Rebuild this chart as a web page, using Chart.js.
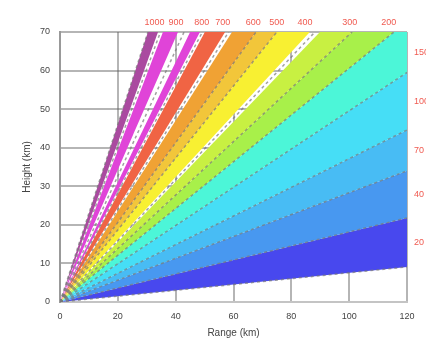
<!DOCTYPE html>
<html>
<head>
<meta charset="utf-8">
<script src="https://cdn.jsdelivr.net/npm/chart.js@4.4.0/dist/chart.umd.min.js"></script>
<style>
  html, body { margin: 0; padding: 0; background: #fff; }
  #wrap { width: 426px; height: 342px; }
</style>
</head>
<body>
<div id="wrap"><canvas id="contour"></canvas></div>
<script>
const xTicks = [0, 20, 40, 60, 80, 100, 120];
const yTicks = [0, 10, 20, 30, 40, 50, 60, 70];
const xMax = 120, yMax = 70;

// band boundaries, steepest first; all start at the origin
// x where a boundary leaves through the top edge
const topExitX = [30.4, 33.9, 35.6, 40.8, 45.0, 48.4, 50.1, 57.1, 59.5, 67.8, 75.0, 86.4, 89.9, 101, 115.5];
// y where the rest leave through the right edge
const rightExitY = [59.5, 44.6, 34.0, 21.8, 9.1];

// fill between consecutive boundaries (null = left white)
const bandColors = ['#aa4aa0', null, '#e044d8', null, '#e044d8', null, '#f06444', null,
  '#f0a234', '#f2c63a', '#f8f032', null, '#c8f042', '#a8f04a',
  '#4cf6d8', '#46def6', '#48bcf4', '#4898f0', '#4848ee'];

const topLabels = ['1000', '900', '800', '700', '600', '500', '400', '300', '200'];
const rightLabels = ['150', '100', '70', '40', '20'];

const FONT = 'Liberation Sans, Arial, sans-serif';

const edges = topExitX.map(x => ({ x: x, y: yMax }))
  .concat(rightExitY.map(y => ({ x: xMax, y: y })));

const datasets = [];

// filled bands
bandColors.forEach((c, i) => {
  if (!c) return;
  const a = edges[i], b = edges[i + 1];
  const pts = [{ x: 0, y: 0 }, a];
  if (a.y === yMax && b.x === xMax) pts.push({ x: xMax, y: yMax });
  pts.push(b, { x: 0, y: 0 });
  datasets.push({
    data: pts, showLine: true, fill: 'shape', backgroundColor: c,
    borderWidth: 0, pointRadius: 0, order: 2
  });
});

// contour lines: on every edge except beside a white gap, plus one down the middle of each gap
function contour(p) {
  datasets.push({
    data: [{ x: 0, y: 0 }, p], showLine: true, fill: false,
    borderColor: 'rgba(120,120,120,0.7)', borderWidth: 1.5, borderDash: [3, 3],
    pointRadius: 0, order: 1
  });
}
edges.forEach((e, i) => {
  const before = i === 0 ? 'out' : bandColors[i - 1];
  const after = i === edges.length - 1 ? 'out' : bandColors[i];
  if (before && after) contour(e);
});
bandColors.forEach((c, i) => {
  if (c) return;
  const a = edges[i], b = edges[i + 1];
  contour({ x: (a.x + b.x) / 2, y: (a.y + b.y) / 2 });
});

const bandLabels = {
  id: 'bandLabels',
  afterDraw(chart) {
    const { ctx, scales: { x, y } } = chart;
    ctx.save();
    ctx.fillStyle = '#f05a50';
    ctx.font = '9px ' + FONT;
    ctx.textBaseline = 'middle';
    const tops = [];
    let t = 0, r = 0;
    bandColors.forEach((c, i) => {
      if (!c) return;
      const a = edges[i], b = edges[i + 1];
      if (b.y === yMax) {
        const mx = (a.x + b.x) / 2 * 1.05;
        const txt = topLabels[t++];
        tops.push({ txt: txt, cx: x.getPixelForValue(mx), w: ctx.measureText(txt).width });
      } else {
        const my = (Math.min(a.y, yMax) + b.y) / 2;
        ctx.textAlign = 'left';
        ctx.fillText(rightLabels[r++], x.right + 7, y.getPixelForValue(my));
      }
    });
    // push crowded top labels to the left so they do not overlap
    for (let k = tops.length - 2; k >= 0; k--) {
      const limit = tops[k + 1].cx - tops[k + 1].w / 2 - 4;
      if (tops[k].cx + tops[k].w / 2 > limit) tops[k].cx = limit - tops[k].w / 2;
    }
    ctx.textAlign = 'center';
    tops.forEach(l => ctx.fillText(l.txt, l.cx, y.top - 9));
    ctx.restore();
  }
};

const gridColor = 'rgba(90,90,90,0.45)';

new Chart(document.getElementById('contour'), {
  type: 'scatter',
  data: { datasets: datasets },
  plugins: [bandLabels],
  options: {
    responsive: true,
    maintainAspectRatio: false,
    animation: false,
    layout: { padding: { top: 32, right: 19, left: 0, bottom: 0 } },
    plugins: { legend: { display: false }, tooltip: { enabled: false } },
    scales: {
      x: {
        type: 'linear', min: 0, max: xMax, z: 1,
        afterBuildTicks: s => { s.ticks = xTicks.map(v => ({ value: v })); },
        afterFit: s => { s.height = 40; },
        grid: { color: gridColor, lineWidth: 2, drawTicks: false },
        border: { display: true, color: '#c4c4c4', width: 2 },
        ticks: { padding: 9, color: '#444', maxRotation: 0, font: { size: 9, family: FONT } },
        title: { display: true, text: 'Range (km)', color: '#444',
          font: { size: 10, family: FONT }, padding: { top: 0, bottom: 3 } }
      },
      y: {
        type: 'linear', min: 0, max: yMax, z: 1,
        afterBuildTicks: s => { s.ticks = yTicks.map(v => ({ value: v })); },
        afterFit: s => { s.width = 60; },
        grid: { color: gridColor, lineWidth: 2, drawTicks: false },
        border: { display: true, color: '#999', width: 2 },
        ticks: { padding: 10, color: '#444', font: { size: 9, family: FONT } },
        title: { display: true, text: 'Height (km)', color: '#444',
          font: { size: 10, family: FONT }, padding: { top: 21, bottom: 0 } }
      }
    }
  }
});
</script>
</body>
</html>
